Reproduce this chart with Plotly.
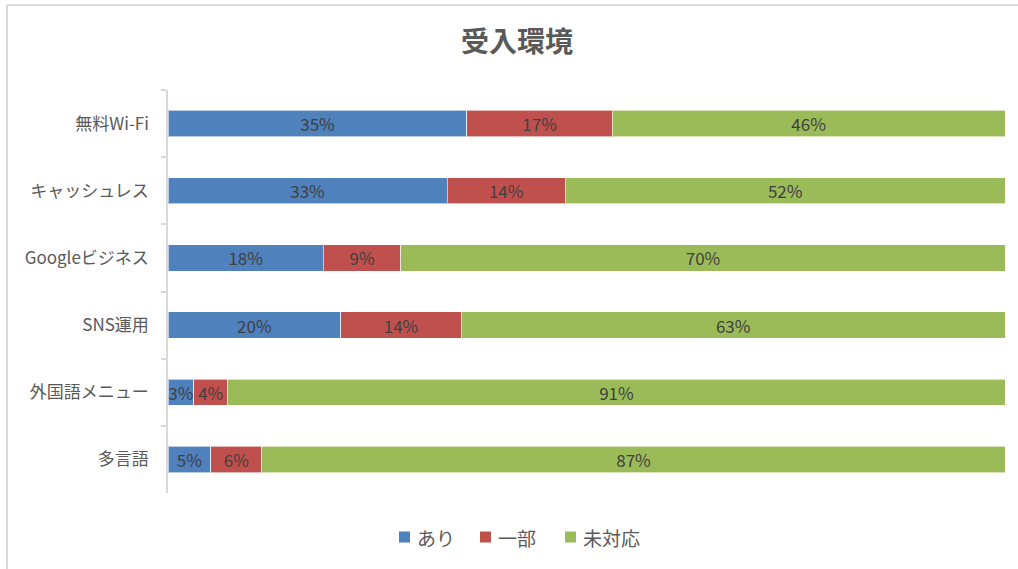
import plotly.graph_objects as go

# Survey results: share of shops per reception-environment item
categories = ["無料Wi-Fi", "キャッシュレス", "Googleビジネス", "SNS運用", "外国語メニュー", "多言語"]
series_names = ["あり", "一部", "未対応"]
ari = [35, 33, 18, 20, 3, 5]
ichibu = [17, 14, 9, 14, 4, 6]
mitaiou = [46, 52, 70, 63, 91, 87]
colors = ["#4F81BD", "#C0504D", "#9BBB59"]

W, H = 1018, 569
L, R, T, B = 168, 13, 90, 76
FONT = "Noto Sans CJK JP, Noto Sans, sans-serif"
GRAY = "#595959"

fig = go.Figure()
for name, vals, col in zip(series_names, [ari, ichibu, mitaiou], colors):
    fig.add_trace(go.Bar(
        y=categories, x=vals, name=name, orientation="h",
        marker=dict(color=col, line=dict(color="rgba(255,255,255,0.6)", width=1)),
        text=[f"{v}%" for v in vals],
        textposition="inside", insidetextanchor="middle", textangle=0,
        constraintext="none",
        textfont=dict(color="#404040", size=17, family=FONT),
        hoverinfo="skip", showlegend=False,
    ))

fig.update_layout(
    width=W, height=H,
    barmode="stack", barnorm="percent", bargap=0.61,
    margin=dict(l=L, r=R, t=T, b=B),
    paper_bgcolor="white", plot_bgcolor="white",
    font=dict(family=FONT, color=GRAY),
    uniformtext=dict(minsize=17, mode="show"),
    title=dict(text="<b>受入環境</b>", x=517 / W, xanchor="center",
               y=1 - 42 / H, yanchor="middle",
               font=dict(size=28, color=GRAY, family=FONT)),
    xaxis=dict(visible=False, range=[0, 100], fixedrange=True),
    yaxis=dict(
        categoryorder="array", categoryarray=categories, autorange="reversed",
        showline=True, linecolor="#d9d9d9", linewidth=1.5,
        ticks="outside", tickson="boundaries", ticklen=5, tickcolor="#d9d9d9",
        tickwidth=1.5, ticklabelstandoff=14,
        tickfont=dict(size=17, color=GRAY, family=FONT),
        showgrid=False,
    ),
    showlegend=False,
)

# pixel -> paper coordinate helpers
pw, ph = W - L - R, H - T - B
fx = lambda px: (px - L) / pw
fy = lambda py: (H - B - py) / ph

# chart frame (top and left edges)
frame = dict(type="line", xref="paper", yref="paper", line=dict(color="#d9d9d9", width=2))
fig.add_shape(**frame, x0=fx(7), x1=fx(W + 5), y0=fy(5), y1=fy(5))
fig.add_shape(**frame, x0=fx(7), x1=fx(7), y0=fy(5), y1=fy(H + 5))

# legend row under the plot: colour square followed by series name
legend_y = 537
legend_x = [399, 480, 565]
for name, col, lx in zip(series_names, colors, legend_x):
    fig.add_shape(type="rect", xref="paper", yref="paper",
                  x0=fx(lx), x1=fx(lx + 11), y0=fy(legend_y - 5.5), y1=fy(legend_y + 5.5),
                  fillcolor=col, line=dict(width=0))
    fig.add_annotation(xref="paper", yref="paper", x=fx(lx + 16), y=fy(legend_y),
                       xanchor="left", yanchor="middle", showarrow=False,
                       text=name, font=dict(size=19, color=GRAY, family=FONT))

fig.write_html("out.html")
